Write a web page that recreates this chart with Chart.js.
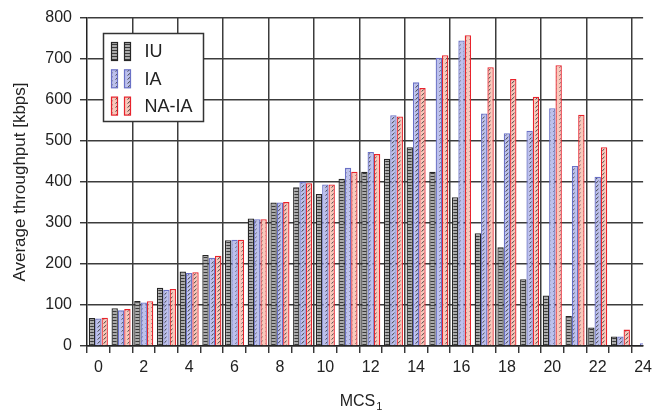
<!DOCTYPE html>
<html>
<head>
<meta charset="utf-8">
<script src="https://cdn.jsdelivr.net/npm/chart.js@4.4.1/dist/chart.umd.min.js"></script>
<style>
html,body{margin:0;padding:0;background:#fff;}
#wrap{width:657px;height:413px;}
</style>
</head>
<body>
<div id="wrap"><canvas id="c" width="657" height="413"></canvas></div>
<script>
const categories = [0,1,2,3,4,5,6,7,8,9,10,11,12,13,14,15,16,17,18,19,20,21,22,23,24];
const seriesNames = ['IU','IA','NA-IA'];
const iuValues   = [68, 92, 110, 142, 182, 222, 258, 311, 350, 387, 371, 408, 425, 457, 485, 425, 363, 275, 241, 163, 123, 73, 45, 23, 0];
const iaValues   = [67, 87, 106, 137, 178, 215, 259, 309, 350, 401, 394, 435, 473, 563, 643, 703, 745, 567, 519, 525, 580, 439, 413, 23, 7];
const naiaValues = [69, 90, 109, 139, 180, 220, 259, 309, 351, 397, 394, 425, 468, 560, 629, 709, 758, 680, 651, 608, 685, 564, 485, 40, 0];
const yTicks = [0,100,200,300,400,500,600,700,800];
const xTitleMain = 'MCS';
const xTitleSub = '1';
const yTitle = 'Average throughput [kbps]';

const FONT = '"Liberation Sans", Arial, Helvetica, sans-serif';

function hatchPattern(bg) {
  const c = document.createElement('canvas');
  c.width = 6; c.height = 4;
  const g = c.getContext('2d');
  g.fillStyle = bg; g.fillRect(0,0,6,4);
  g.strokeStyle = '#333'; g.lineWidth = 0.9;
  g.beginPath(); g.moveTo(1.5,3.6); g.lineTo(4.5,0.8); g.stroke();
  return g.createPattern(c, 'repeat');
}
function stripePattern() {
  const c = document.createElement('canvas');
  c.width = 6; c.height = 3;
  const g = c.getContext('2d');
  g.fillStyle = '#ababab'; g.fillRect(0,0,6,3);
  g.fillStyle = '#3a3a3a'; g.fillRect(0,2,6,1);
  return g.createPattern(c, 'repeat');
}
const fills = [stripePattern(), hatchPattern('#bcc0ec'), hatchPattern('#f8c8bb')];
const borders = ['#262626', '#6a71c6', '#e8232c'];
const valueLists = [iuValues, iaValues, naiaValues];

const datasets = seriesNames.map((name, i) => ({
  label: name,
  data: categories.map((c, k) => ({x: c, y: valueLists[i][k]})),
  backgroundColor: fills[i],
  borderColor: borders[i],
  borderWidth: 1.3,
  borderSkipped: 'bottom',
  categoryPercentage: 0.84,
  barPercentage: 1.0
}));

const legendPlugin = {
  id: 'boxLegend',
  afterDraw(chart) {
    const ctx = chart.ctx;
    const a = chart.chartArea;
    ctx.save();
    // x-axis title with subscript
    ctx.fillStyle = '#222';
    ctx.textBaseline = 'alphabetic';
    ctx.textAlign = 'left';
    ctx.font = '16px ' + FONT;
    const wMain = ctx.measureText(xTitleMain).width;
    ctx.font = '11px ' + FONT;
    const wSub = ctx.measureText(xTitleSub).width;
    const cx = (a.left + a.right) / 2 - 4;
    const startX = cx - (wMain + 1 + wSub) / 2;
    ctx.font = '16px ' + FONT;
    ctx.fillText(xTitleMain, startX, 405.5);
    ctx.font = '11px ' + FONT;
    ctx.fillText(xTitleSub, startX + wMain + 1, 409.5);

    // legend box
    const x0 = a.left + 16.5, y0 = a.top + 15.5, w = 100, h = 88;
    ctx.fillStyle = '#fff';
    ctx.fillRect(x0, y0, w, h);
    ctx.strokeStyle = '#333'; ctx.lineWidth = 1.5;
    ctx.strokeRect(x0, y0, w, h);
    chart.data.datasets.forEach((ds, i) => {
      const ty = y0 + 9 + i * 27.3;
      [x0 + 8, x0 + 21].forEach(ix => {
        ctx.fillStyle = ds.backgroundColor;
        ctx.fillRect(ix, ty, 6, 18);
        ctx.strokeStyle = ds.borderColor; ctx.lineWidth = 1.2;
        ctx.strokeRect(ix, ty, 6, 18);
      });
      ctx.fillStyle = '#222';
      ctx.font = '18px ' + FONT;
      ctx.textBaseline = 'middle';
      ctx.textAlign = 'left';
      ctx.fillText(ds.label, x0 + 41, ty + 10);
    });
    ctx.restore();
  }
};

new Chart(document.getElementById('c'), {
  type: 'bar',
  data: { datasets },
  plugins: [legendPlugin],
  options: {
    responsive: false,
    devicePixelRatio: 1,
    animation: false,
    layout: { padding: { top: 18, right: 11, left: 0, bottom: 0 } },
    plugins: { legend: { display: false }, tooltip: { enabled: false } },
    scales: {
      x: {
        type: 'linear',
        min: -0.5,
        max: 24,
        offset: false,
        afterFit(s) { s.height = 67; },
        ticks: {
          stepSize: 1,
          includeBounds: false,
          autoSkip: false,
          maxRotation: 0,
          padding: 5,
          color: '#222',
          font: { family: FONT, size: 16 },
          callback: v => (v % 2 === 0 ? String(v) : '')
        },
        grid: {
          color: c => (c.tick && c.tick.value % 2 === 0 && c.tick.value !== 0) ? '#3c3c3c' : 'rgba(0,0,0,0)',
          lineWidth: 1.5,
          tickColor: '#222',
          tickLength: 7,
          tickWidth: 1.3
        },
        border: { display: true, color: '#222', width: 1.5 },
        title: { display: false }
      },
      y: {
        min: 0,
        max: 800,
        afterFit(s) { s.width = 87; },
        afterBuildTicks(s) { s.ticks = yTicks.map(v => ({value: v})); },
        ticks: {
          padding: 8,
          color: '#222',
          font: { family: FONT, size: 16 }
        },
        grid: {
          color: '#3c3c3c',
          lineWidth: 1.5,
          tickColor: '#222',
          tickLength: 7,
          tickWidth: 1.3
        },
        border: { display: true, color: '#222', width: 1.5 },
        title: {
          display: true,
          text: yTitle,
          color: '#222',
          font: { family: FONT, size: 17 },
          padding: { top: 10, bottom: 4 }
        }
      }
    }
  }
});
</script>
</body>
</html>
